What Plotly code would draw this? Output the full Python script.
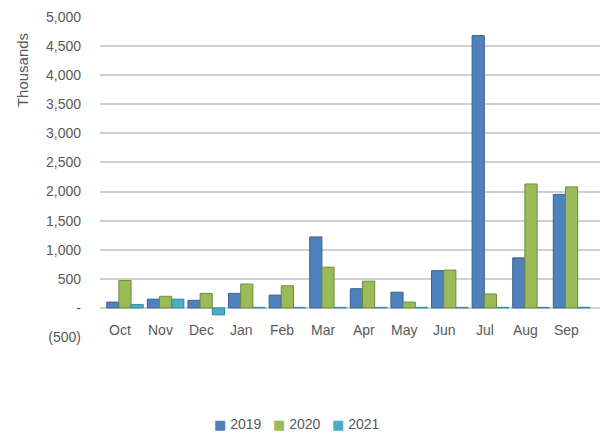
import plotly.graph_objects as go

months = ["Oct", "Nov", "Dec", "Jan", "Feb", "Mar", "Apr", "May", "Jun", "Jul", "Aug", "Sep"]
v2019 = [100, 150, 130, 250, 220, 1220, 330, 270, 640, 4680, 860, 1950]
v2020 = [470, 200, 250, 410, 380, 700, 460, 100, 650, 240, 2130, 2080]
v2021 = [60, 150, -120, 10, 10, 10, 10, 10, 10, 10, 10, 10]

series = [("2019", v2019, "#4F81BD", "#3A6290"),
          ("2020", v2020, "#9BBB59", "#6F8A3C"),
          ("2021", v2021, "#4BACC6", "#2F8AA3")]

tick_vals = [-500, 0, 500, 1000, 1500, 2000, 2500, 3000, 3500, 4000, 4500, 5000]
tick_text = ["(500)", "-", "500", "1,000", "1,500", "2,000", "2,500", "3,000", "3,500", "4,000", "4,500", "5,000"]
label_y = -380

fig = go.Figure()
for name, vals, col, edge in series:
    fig.add_trace(go.Bar(
        x=months, y=vals, name=name,
        marker=dict(color=col, line=dict(color=edge, width=1)),
    ))

for m in months:
    fig.add_annotation(x=m, y=label_y, text=m, showarrow=False, xshift=-5,
                       font=dict(size=14, color="#595959"), yanchor="middle",
                       bgcolor="white")

fig.add_annotation(xref="paper", yref="paper", x=-0.156, y=0.834, text="Thousands",
                   textangle=-90, showarrow=False, xanchor="center", yanchor="middle",
                   font=dict(size=15, color="#595959"))

# compact legend (Excel style: small square right next to the label)
legend_text = "&nbsp;&nbsp;&nbsp;".join(
    f'<span style="color:{col};font-family:DejaVu Sans;font-size:13px">■</span>&nbsp;{name}'
    for name, _, col, _ in series)
fig.add_annotation(xref="paper", yref="paper", x=0.394, y=-0.272, text=legend_text,
                   showarrow=False, xanchor="center", yanchor="middle",
                   font=dict(size=14, color="#595959"))

fig.update_layout(
    width=609, height=434,
    margin=dict(l=100, r=9, t=17, b=97),
    paper_bgcolor="white", plot_bgcolor="white",
    barmode="group", bargap=0.1, bargroupgap=0.0,
    font=dict(family="Liberation Sans", size=14, color="#595959"),
    showlegend=False,
    xaxis=dict(showticklabels=False, showgrid=False, zeroline=False,
               range=[-0.616, 11.70], fixedrange=True),
    yaxis=dict(range=[-500, 5000], tickvals=tick_vals, ticktext=tick_text,
               showgrid=True, gridcolor="#D0D0D0", gridwidth=2,
               zeroline=True, zerolinecolor="#D0D0D0", zerolinewidth=2,
               ticks="", ticklabelstandoff=18, tickfont=dict(size=14)),
)

fig.write_html("out.html", config={"displayModeBar": False},
               post_script="document.body.style.margin='0';")
